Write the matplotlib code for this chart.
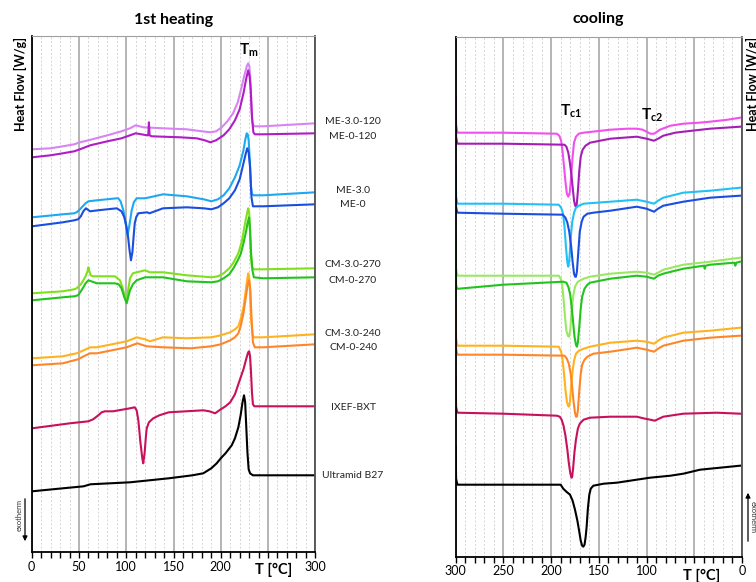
import matplotlib
matplotlib.use("Agg")
import matplotlib.pyplot as plt
import matplotlib.patches as mpatches
from matplotlib.ticker import MultipleLocator

plt.rcParams['font.family'] = ['Lato', 'DejaVu Sans']
plt.rcParams['mathtext.fontset'] = 'custom'
plt.rcParams['mathtext.rm'] = 'Lato'
plt.rcParams['mathtext.bf'] = 'Lato:bold'

# ---------------- 1st heating (T in °C, H = heat flow, arbitrary offset units) ----------------
h_me30_120_T = [0.5, 20, 33, 45, 51, 60, 80, 95, 104, 110, 114, 118, 139, 164, 180, 189, 195, 201, 207, 213, 218, 222, 225, 227.5, 229, 230.3, 231.5, 232.5, 233.5, 235, 245, 300]
h_me30_120_H = [403, 404, 406, 408, 410, 412, 417, 421, 424, 427, 426, 425, 424, 423, 421, 420, 421, 425, 431, 439, 450, 465, 477, 486, 489, 486, 470, 445, 430, 426, 426, 429]

h_me0_120_T = [0.5, 20, 33, 45, 51, 62, 80, 95, 104, 110, 122, 123.3, 124, 124.7, 127, 157, 174.5, 183, 189, 195, 203, 209, 215, 220, 224, 227, 229, 230.5, 231.7, 233, 234.5, 236, 245, 300]
h_me0_120_H = [395, 397, 399, 401, 403, 407, 411, 414, 417, 419, 417, 417, 430, 417, 416, 415, 414, 412, 410, 412, 417, 423, 432, 443, 459, 474, 482, 476, 462, 435, 420, 418, 418, 419]

h_me30_T = [0.5, 33, 45, 47.5, 50, 53, 57, 60, 69, 90, 91.6, 94, 97, 99.5, 101.5, 103.5, 105.8, 108, 111, 120, 139, 164, 182, 190, 197, 203, 209, 215, 220, 224, 226, 227.4, 228.5, 229.5, 230.8, 232, 233, 235, 245, 300]
h_me30_H = [335, 338, 339, 340, 342, 345, 349, 351, 352, 354, 354, 351, 342, 328, 317, 328, 342, 350, 354, 354, 358, 356, 353, 351, 353, 357, 364, 375, 387, 402, 413, 419, 418, 412, 390, 365, 358, 357, 357, 360]

h_me0_T = [0.5, 33, 45, 49, 52, 54.6, 57.4, 61.7, 70, 90, 95, 98, 100, 102, 103.5, 105, 106.5, 108, 109, 110.5, 112.8, 122, 124.5, 139, 164, 182, 190, 197, 203, 209, 215, 220, 224, 226.5, 228, 229.5, 231, 232.5, 234, 236, 245, 300]
h_me0_H = [326, 330, 332, 333, 336, 341, 344, 341, 342, 344, 341, 335, 327, 315, 302, 292, 300, 318, 329, 335, 339, 340, 339, 344, 345, 344, 343, 345, 349, 354, 362, 373, 389, 399, 404, 400, 385, 355, 346, 346, 346, 348]

h_cm30_270_T = [0.5, 33, 45, 47.5, 52, 54.6, 57, 59, 60, 61, 62.4, 65, 69, 88, 93.4, 96, 98.7, 100.4, 102, 104, 107, 111, 120, 125, 139, 164, 190, 197, 203, 209, 213, 218.6, 222, 224, 226.5, 228, 229, 230, 231, 232, 233, 235, 245, 300]
h_cm30_270_H = [259, 261, 263, 264, 268, 272, 276, 281, 285, 281, 277, 276, 276, 276, 272, 265, 255, 251, 262, 274, 279, 280, 282, 280, 280, 277, 275, 276, 279, 284, 289, 299, 310, 320, 333, 340, 344, 340, 320, 295, 285, 283, 283, 284]

h_cm0_270_T = [0.5, 33, 45, 49, 52, 54.6, 57, 60, 69, 88, 92, 95, 98, 100.5, 102, 104, 107, 111, 120, 139, 164, 190, 197, 203, 209, 214, 218, 221, 224, 227, 228.5, 230, 231, 232, 233.5, 235, 245, 300]
h_cm0_270_H = [252, 255, 256, 257, 261, 265, 269, 272, 269, 269, 268, 264, 255, 249, 255, 262, 268, 272, 275, 275, 271, 270, 271, 274, 278, 285, 292, 298, 309, 322, 330, 335, 322, 300, 282, 275, 274, 275]

h_cm30_240_T = [0.5, 33, 47.5, 55, 61.7, 69, 100.5, 106, 111, 120, 125, 139, 164, 190, 200, 210, 215, 218.6, 221, 224, 226.5, 228, 229, 230, 231, 232, 233.5, 235, 245, 300]
h_cm30_240_H = [194, 196, 199, 202, 205, 205, 211, 213, 215, 213, 211, 215, 214, 215, 217, 220, 223, 226, 233, 245, 262, 273, 279, 276, 260, 235, 218, 215, 215, 218]

h_cm0_240_T = [0.5, 33, 49, 55, 61.7, 69, 100.5, 106, 111.7, 121.5, 139, 168, 190, 200, 210, 215, 218.6, 221, 224, 226.5, 228.5, 230, 231.3, 232.5, 234, 236, 245, 300]
h_cm0_240_H = [187, 189, 193, 196, 199, 199, 205, 207, 209, 206, 205, 204, 206, 208, 212, 215, 219, 226, 239, 255, 268, 272, 262, 235, 210, 205, 205, 208]

h_ixef_T = [0.5, 40.5, 60, 65, 70.5, 74, 77.5, 86, 104, 109, 111, 112.8, 115, 117, 118, 119.5, 121, 121.7, 124, 128.6, 135, 145, 181.5, 188, 194, 200, 205, 210, 215, 220, 224, 227.4, 229, 230, 231, 232, 233, 234, 235.5, 245, 300]
h_ixef_H = [124, 129, 131, 133, 137, 140, 141, 141, 144, 145, 142, 132, 110, 94, 89, 100, 118, 124, 130, 134, 137, 140, 142, 141, 139, 143, 146, 150, 158, 172, 183, 195, 200, 201, 196, 180, 160, 148, 146, 146, 146]

h_ultra_T = [0.5, 33, 55, 62, 104, 145, 170, 181.5, 190, 195.7, 200, 205, 211.6, 215, 218.6, 221, 223, 224.6, 225.8, 227, 228.2, 229.5, 231, 234, 245, 300]
h_ultra_H = [61, 64, 66, 68, 70, 74, 77, 79, 84, 89, 94, 99, 107, 114, 125, 137, 150, 157, 150, 125, 100, 83, 79, 77, 77, 77]

# ---------------- cooling ----------------
c_me30_120_T = [300, 299.6, 298.5, 298, 250, 194, 191.5, 189.5, 188, 186.5, 185, 183.5, 182, 180.5, 179, 177.5, 176, 174, 171, 166, 138, 120, 110.3, 104, 100, 96, 92.2, 89, 86, 75, 61.5, 45, 33.5, 15, 2]
c_me30_120_H = [460, 432, 425, 424, 424, 423, 421, 416, 405, 390, 375, 363, 360, 364, 380, 400, 414, 420, 423, 424, 427, 428, 428, 427, 425, 423, 423, 425, 427, 431, 433, 434, 435, 437, 439]

c_me0_120_T = [300, 299.6, 298.5, 298, 250, 186, 184, 182, 180.5, 179, 177.5, 176, 174.8, 174, 173.2, 172, 170.5, 169, 167, 164, 159.3, 138, 110.3, 100, 92.2, 88, 82.5, 70, 61.5, 33.5, 2]
c_me0_120_H = [460, 420, 414, 413, 413, 412, 410, 404, 395, 384, 370, 356, 351, 350, 352, 365, 386, 400, 407, 411, 414, 418, 420, 418, 416, 418, 421, 424, 425, 428, 430]

c_me30_T = [300, 299.6, 298.5, 298, 250, 192, 189.5, 187.5, 186, 184.5, 183, 182, 181, 179.5, 178, 176, 174, 171, 166, 138, 110.3, 100, 92.2, 88, 82.5, 70, 61.5, 33.5, 2]
c_me30_H = [390, 360, 354, 353, 353, 352, 349, 343, 330, 310, 294, 290, 296, 318, 334, 344, 349, 351, 353, 355, 357, 355, 353, 356, 359, 362, 364, 366, 369]

c_me0_T = [300, 299.6, 298.5, 298, 250, 188, 185, 183, 181, 179, 177.5, 176, 174.8, 174, 173, 171.5, 170, 168, 166, 162, 155.8, 138, 110.3, 100, 92.2, 88, 82.5, 61.5, 33.5, 2]
c_me0_H = [390, 350, 345, 344, 343, 342, 339, 334, 325, 310, 295, 283, 280, 280, 285, 305, 325, 335, 340, 343, 344, 346, 350, 348, 345, 348, 351, 355, 359, 361]

c_cm30_270_T = [300, 299.6, 298.5, 298, 250, 192, 190, 188.5, 187, 185.5, 184, 182.5, 181.3, 180, 178.5, 177, 175, 172, 166, 159.3, 138, 110.3, 100, 92.2, 88, 82.5, 61.5, 33.5, 2]
c_cm30_270_H = [320, 288, 282, 281, 281, 281, 278, 272, 258, 240, 226, 221, 220, 226, 245, 260, 270, 275, 278, 280, 283, 285, 284, 282, 284, 287, 292, 295, 299]

c_cm0_270_T = [300, 299.6, 298.8, 297, 250, 187.3, 184, 182, 180, 178.5, 177, 175.5, 174, 173, 172, 170.5, 169, 167.5, 165, 162, 159.3, 138, 110.3, 100, 92.2, 88, 82.5, 61.5, 40, 39, 38, 33.5, 8, 7, 6, 2]
c_cm0_270_H = [320, 272, 268, 268, 272, 275, 274, 270, 262, 250, 235, 220, 212, 210, 214, 230, 248, 260, 268, 272, 274, 278, 281, 280, 278, 281, 283, 288, 291, 288, 291, 292, 294, 291, 294, 295]

c_cm30_240_T = [300, 299.6, 298.5, 298, 250, 192, 189.5, 188, 186.5, 185, 183.5, 182.3, 181.3, 180.3, 179, 177.5, 176, 174, 171, 166, 159.3, 138, 110.3, 100, 92.2, 88, 82.5, 61.5, 33.5, 2]
c_cm30_240_H = [250, 218, 212, 211, 211, 210, 205, 197, 183, 167, 155, 151, 150, 155, 170, 186, 196, 203, 206, 208, 210, 214, 216, 215, 213, 216, 219, 224, 226, 229]

c_cm0_240_T = [300, 299.6, 298.5, 298, 250, 186, 183.5, 181.5, 179.5, 178, 176.5, 175, 174, 173, 172, 170.5, 169, 167.5, 165, 162, 155.8, 138, 110.3, 100, 92.2, 88, 82.5, 61.5, 33.5, 2]
c_cm0_240_H = [250, 208, 203, 202, 202, 201, 198, 193, 183, 170, 155, 144, 140, 140, 146, 166, 183, 192, 197, 200, 203, 205, 209, 207, 205, 208, 211, 216, 219, 221]

c_ixef_T = [300, 299.6, 298.5, 298, 250, 194, 191, 189, 187, 185, 183, 181.5, 180, 179, 178.5, 178, 177, 175.5, 174, 172, 170, 166, 159.3, 138, 110.3, 101.6, 96, 91.4, 87, 82.5, 61.5, 26.5, 2]
c_ixef_H = [180, 150, 145, 144, 143, 141, 140, 137, 131, 121, 107, 94, 84, 80, 79, 80, 88, 105, 117, 128, 133, 137, 139, 140, 140, 138, 137, 136, 138, 140, 143, 144, 143]

c_ultra_T = [300, 299.6, 298.5, 298, 250, 190, 187.3, 184, 180.2, 177.5, 175, 172.5, 170.5, 169, 167.5, 166.3, 165, 163.8, 162.8, 161.5, 160, 158.5, 155.8, 145, 131.3, 96.4, 75, 61.5, 44, 2]
c_ultra_H = [110, 78, 73, 72, 72, 72, 68, 65, 62, 56, 47, 36, 25, 16, 11, 10, 12, 20, 30, 48, 62, 68, 71, 73, 74, 79, 81, 83, 87, 91]

sample_names = ['ME-3.0-120', 'ME-0-120', 'ME-3.0', 'ME-0', 'CM-3.0-270', 'CM-0-270',
                'CM-3.0-240', 'CM-0-240', 'IXEF-BXT', 'Ultramid B27']
heat_colors = ['#d884f2', '#b01cc6', '#1ea8f0', '#1a4ee0', '#80e01c', '#22c41c',
               '#ffb21f', '#ff8628', '#c8105c', '#000000']
cool_colors = ['#f050ee', '#a41eb6', '#22c0f5', '#1a4ee0', '#9ae862', '#22c41c',
               '#ffb21f', '#ff8628', '#c8105c', '#000000']

heat_ticks = [0, 50, 100, 150, 200, 250, 300]
heat_ticklabels = ['0', '50', '100', '150', '200', '', '300']
cool_ticks = [300, 250, 200, 150, 100, 50, 0]
cool_ticklabels = ['300', '250', '200', '150', '100', '', '0']

heat_curves = [(h_me30_120_T, h_me30_120_H), (h_me0_120_T, h_me0_120_H),
               (h_me30_T, h_me30_H), (h_me0_T, h_me0_H),
               (h_cm30_270_T, h_cm30_270_H), (h_cm0_270_T, h_cm0_270_H),
               (h_cm30_240_T, h_cm30_240_H), (h_cm0_240_T, h_cm0_240_H),
               (h_ixef_T, h_ixef_H), (h_ultra_T, h_ultra_H)]
cool_curves = [(c_me30_120_T, c_me30_120_H), (c_me0_120_T, c_me0_120_H),
               (c_me30_T, c_me30_H), (c_me0_T, c_me0_H),
               (c_cm30_270_T, c_cm30_270_H), (c_cm0_270_T, c_cm0_270_H),
               (c_cm30_240_T, c_cm30_240_H), (c_cm0_240_T, c_cm0_240_H),
               (c_ixef_T, c_ixef_H), (c_ultra_T, c_ultra_H)]

# label positions (pixel y in figure) for the names on the right of the heating panel
label_py = [121.7, 136, 191, 204.5, 265, 280, 333, 347, 407, 475.5]

W, H = 756, 582
fig = plt.figure(figsize=(W / 100, H / 100), dpi=100)

def px(x, y):
    return x / W, 1 - y / H

ax1 = fig.add_axes([31.7 / W, 1 - 552.3 / H, (315.3 - 31.7) / W, (552.3 - 36) / H])
ax2 = fig.add_axes([455.7 / W, 1 - 556.7 / H, (742 - 455.7) / W, (556.7 - 36.5) / H])

def style(ax, xlim, ticks, labels):
    ax.set_xlim(*xlim)
    ax.set_xticks(ticks)
    ax.set_xticklabels(labels)
    ax.xaxis.set_minor_locator(MultipleLocator(10))
    ax.grid(which='major', axis='x', color='#a8a8a8', lw=1.2)
    ax.grid(which='minor', axis='x', color='#d4d4d4', lw=0.7, ls=(0, (2, 2)))
    ax.set_axisbelow(True)
    ax.set_yticks([])
    ax.tick_params(axis='x', which='both', direction='out', length=4, width=1,
                   color='black', labelsize=9, pad=2)
    for s in ['left', 'bottom']:
        ax.spines[s].set_color('black')
        ax.spines[s].set_linewidth(1.3)
    ax.spines['top'].set_color('#a0a0a0')
    ax.spines['top'].set_linewidth(0.8)
    ax.spines['right'].set_color('#505050')
    ax.spines['right'].set_linewidth(1.3)

style(ax1, (0, 300), heat_ticks, heat_ticklabels)
ax1.set_ylim(0, 516.3)
style(ax2, (300, 0), cool_ticks, cool_ticklabels)
ax2.set_ylim(0, 520.2)

for (T, Hf), c in zip(heat_curves, heat_colors):
    ax1.plot(T, Hf, color=c, lw=1.5, solid_joinstyle='round')
for (T, Hf), c in zip(cool_curves, cool_colors):
    ax2.plot(T, Hf, color=c, lw=1.5, solid_joinstyle='round')

for name, py in zip(sample_names, label_py):
    fig.text(*px(353, py), name, ha='center', va='center', fontsize=7.5, color='#222222')

# titles
fig.text(*px(174, 20), '1st heating', ha='center', va='center', fontsize=11.5, fontweight='bold')
fig.text(*px(598, 19), 'cooling', ha='center', va='center', fontsize=11.5, fontweight='bold')

# y labels
fig.text(*px(20, 37), 'Heat Flow [W/g]', ha='center', va='top', rotation=90, fontsize=9, fontweight='bold')
fig.text(*px(752, 37), 'Heat Flow [W/g]', ha='center', va='top', rotation=90, fontsize=9, fontweight='bold')

# x labels
fig.text(*px(274, 570), 'T [°C]', ha='center', va='center', fontsize=10.5, fontweight='bold')
fig.text(*px(702, 576), 'T [°C]', ha='center', va='center', fontsize=10.5, fontweight='bold')

# peak annotations
fig.text(*px(249, 50), r'$\mathbf{T_m}$', ha='center', va='center', fontsize=11)
fig.text(*px(571, 111), r'$\mathbf{T_{c1}}$', ha='center', va='center', fontsize=11)
fig.text(*px(652, 115), r'$\mathbf{T_{c2}}$', ha='center', va='center', fontsize=11)

# exotherm arrows
fig.text(*px(19.5, 515), 'exotherm', ha='center', va='center', rotation=90, fontsize=5.5, color='#333333')
fig.patches.append(mpatches.FancyArrowPatch(px(25, 496), px(25, 544), transform=fig.transFigure,
                   arrowstyle='-|>', mutation_scale=7, color='black', lw=0.9))
fig.text(*px(753.5, 517), 'exotherm', ha='center', va='center', rotation=-90, fontsize=5.5, color='#333333')
fig.patches.append(mpatches.FancyArrowPatch(px(748, 544), px(748, 490), transform=fig.transFigure,
                   arrowstyle='-|>', mutation_scale=7, color='black', lw=0.9))

fig.savefig('out.png', dpi=100)
